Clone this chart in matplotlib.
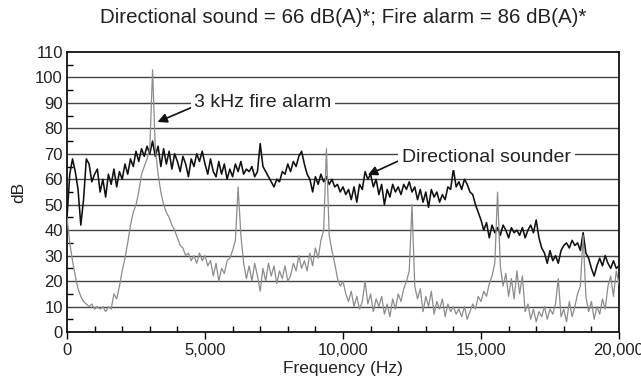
# noise spectra: directional sounder vs 3 kHz fire alarm

import numpy as np
import matplotlib.pyplot as plt
from matplotlib.ticker import MultipleLocator, FuncFormatter

plt.rcParams['font.family'] = ['Liberation Sans', 'DejaVu Sans']

freq = np.arange(0, 20001, 100)  # Hz, one reading every 100 Hz

# directional sounder level (dB)
sounder = [
    45, 62, 68, 63, 56, 42, 52, 68, 66, 59,
    62, 64, 55, 60, 53, 62, 58, 64, 57, 63,
    60, 66, 62, 68, 65, 71, 67, 72, 69, 73,
    70, 75, 69, 73, 65, 72, 66, 71, 64, 70,
    67, 63, 69, 66, 61, 68, 65, 70, 67, 71,
    66, 62, 68, 63, 61, 67, 62, 66, 60, 64,
    61, 66, 63, 67, 62, 64, 63, 65, 61, 63,
    74, 65, 63, 61, 59, 57, 60, 59, 63, 62,
    66, 63, 67, 65, 69, 71, 66, 62, 60, 55,
    61, 58, 62, 59, 61, 58, 60, 57, 58, 55,
    57, 54, 56, 52, 57, 51, 58, 56, 63, 60,
    62, 57, 60, 54, 58, 50, 56, 53, 58, 55,
    57, 54, 58, 56, 59, 55, 57, 52, 56, 51,
    55, 49, 56, 53, 55, 51, 54, 52, 57, 56,
    64, 57, 59, 56, 60, 58, 55, 54, 50, 47,
    44, 40, 43, 37, 42, 39, 41, 38, 42, 40,
    37, 41, 39, 40, 38, 41, 37, 40, 42, 39,
    44, 37, 33, 31, 27, 32, 28, 30, 27, 32,
    34, 35, 33, 36, 34, 35, 32, 39, 31, 29,
    25, 22, 26, 29, 26, 30, 27, 25, 28, 25,
    26,
]

# fire alarm level (dB)
alarm = [
    45, 35, 28, 22, 17, 14, 12, 11, 10, 11,
    9, 10, 9, 10, 8, 10, 9, 15, 13, 18,
    24, 29, 35, 42, 47, 50, 55, 62, 65, 68,
    72, 103, 72, 62, 55, 50, 47, 45, 42, 40,
    37, 34, 33, 30, 31, 28, 30, 27, 31, 28,
    30, 26, 28, 22, 27, 20, 25, 23, 28, 29,
    32, 36, 57, 38, 27, 21, 26, 20, 27, 22,
    16, 25, 20, 27, 22, 26, 19, 24, 21, 26,
    20, 22, 27, 24, 30, 25, 28, 24, 31, 26,
    33, 29, 36, 40, 72, 38, 32, 27, 21, 18,
    20, 15, 12, 16, 10, 14, 9, 12, 20, 11,
    15, 8, 13, 10, 14, 7, 11, 6, 13, 9,
    15, 12, 17, 20, 24, 50, 18, 13, 17, 8,
    14, 10, 16, 7, 12, 9, 13, 6, 11, 8,
    10, 7, 9, 6, 10, 5, 8, 11, 9, 14,
    12, 16, 14, 19, 22, 27, 55, 26, 18, 23,
    14, 21, 13, 24, 15, 22, 8, 11, 5, 9,
    4, 8, 6, 10, 5, 9, 7, 11, 21, 6,
    9, 4, 12, 6, 10, 15, 18, 38, 14, 8,
    12, 5, 10, 7, 13, 9, 18, 22, 14, 24,
    19,
]

txt = '#222222'

fig = plt.figure(figsize=(6.41, 3.92), dpi=100)
ax = fig.add_axes([67/641, 1-332/392, 552/641, 280/392])

# horizontal rules every 10 dB
for lev in range(10, 110, 10):
    ax.axhline(lev, color='#444444', lw=1.0, zorder=1)

ax.plot(freq, sounder, color='#111111', lw=1.15, zorder=3)
ax.plot(freq, alarm, color='#8c8c8c', lw=0.9, zorder=4)

ax.set_xlim(0, 20000)
ax.set_ylim(0, 110)

ax.xaxis.set_major_locator(MultipleLocator(5000))
ax.xaxis.set_minor_locator(MultipleLocator(1000))
ax.xaxis.set_major_formatter(FuncFormatter(lambda v, p: f'{int(v):,}'))
ax.yaxis.set_major_locator(MultipleLocator(10))
ax.yaxis.set_minor_locator(MultipleLocator(5))

ax.tick_params(axis='x', which='major', direction='out', length=5, width=1,
               labelsize=12, labelcolor=txt, pad=3)
ax.tick_params(axis='x', which='minor', direction='in', length=4, width=1)
ax.tick_params(axis='y', which='major', direction='in', length=0,
               labelsize=12, labelcolor=txt, pad=3)
ax.tick_params(axis='y', which='minor', direction='in', length=4, width=1)

for s in ax.spines.values():
    s.set_linewidth(1.3)
    s.set_color('#111111')

ax.set_xlabel('Frequency (Hz)', fontsize=12.5, color=txt, labelpad=2)
ax.set_ylabel('dB', fontsize=12.5, color=txt, labelpad=6)
fig.suptitle('Directional sound = 66 dB(A)*; Fire alarm = 86 dB(A)*',
             x=0.535, y=0.98, fontsize=14.8, color=txt)

# labels sit on the grid rules, arrows point at the traces
ax.annotate('3 kHz fire alarm', xy=(3280, 82.5), xytext=(7100, 90),
            fontsize=14, color=txt, ha='center', va='center', zorder=5,
            bbox=dict(boxstyle='square,pad=0.15', fc='white', ec='none'),
            arrowprops=dict(arrowstyle='-|>', color='#111111', lw=1.2,
                            mutation_scale=14, shrinkA=0, shrinkB=0,
                            relpos=(0.0, 0.3)))
ax.annotate('Directional sounder', xy=(10900, 61.7), xytext=(15200, 68.5),
            fontsize=14, color=txt, ha='center', va='center', zorder=5,
            bbox=dict(boxstyle='square,pad=0.2', fc='white', ec='none'),
            arrowprops=dict(arrowstyle='-|>', color='#111111', lw=1.2,
                            mutation_scale=14, shrinkA=0, shrinkB=0,
                            relpos=(0.0, 0.4)))

fig.savefig('out.png', dpi=100)
